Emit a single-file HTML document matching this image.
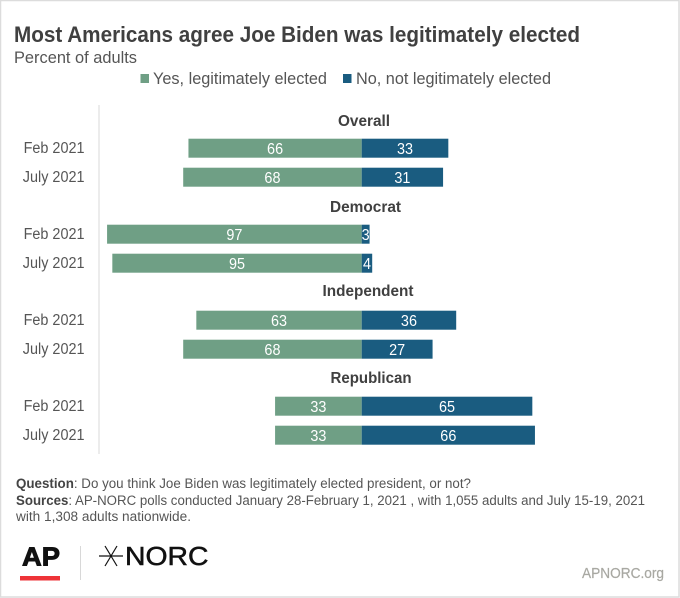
<!DOCTYPE html>
<html lang="en">
<head>
<meta charset="utf-8">
<title>Most Americans agree Joe Biden was legitimately elected</title>
<style>
  html, body { margin: 0; padding: 0; background: #fff; }
  svg { display: block; font-family: "Liberation Sans", sans-serif; }
</style>
</head>
<body>
<svg id="chart" xmlns="http://www.w3.org/2000/svg" width="680" height="598" viewBox="0 0 680 598">
  <rect x="0.5" y="0.5" width="678.5" height="596.5" fill="#fff" stroke="#dcdcdc" stroke-width="1.5"/>

  <text x="14" y="42" font-size="22" font-weight="700" fill="#404040" textLength="566" lengthAdjust="spacingAndGlyphs">Most Americans agree Joe Biden was legitimately elected</text>
  <text x="14" y="63" font-size="16.5" fill="#555" textLength="123" lengthAdjust="spacingAndGlyphs">Percent of adults</text>

  <g>
    <rect x="140.5" y="74" width="8.5" height="9" fill="#6f9f85"/>
    <text x="153" y="84" font-size="16.5" fill="#555" textLength="174" lengthAdjust="spacingAndGlyphs">Yes, legitimately elected</text>
    <rect x="343" y="74" width="8.5" height="9" fill="#1a5c80"/>
    <text x="356" y="84" font-size="16.5" fill="#555" textLength="195" lengthAdjust="spacingAndGlyphs">No, not legitimately elected</text>
  </g>

  <line x1="99" y1="105" x2="99" y2="454" stroke="#e6e6e6" stroke-width="1.5"/>

  <g font-size="15.5" font-weight="700" fill="#404040">
    <text x="338" y="126" textLength="52" lengthAdjust="spacingAndGlyphs">Overall</text>
    <text x="330" y="212" textLength="71" lengthAdjust="spacingAndGlyphs">Democrat</text>
    <text x="322.5" y="296" textLength="91" lengthAdjust="spacingAndGlyphs">Independent</text>
    <text x="330.5" y="383" textLength="81" lengthAdjust="spacingAndGlyphs">Republican</text>
  </g>

  <g id="marks"></g>

  <g font-size="13.5" fill="#555">
    <text x="16" y="488" textLength="455" lengthAdjust="spacingAndGlyphs"><tspan font-weight="700" fill="#444">Question</tspan>: Do you think Joe Biden was legitimately elected president, or not?</text>
    <text x="16" y="505" textLength="629" lengthAdjust="spacingAndGlyphs"><tspan font-weight="700" fill="#444">Sources</tspan>: AP-NORC polls conducted January 28-February 1, 2021 , with 1,055 adults  and July 15-19, 2021</text>
    <text x="16" y="521" textLength="175" lengthAdjust="spacingAndGlyphs">with 1,308 adults nationwide.</text>
  </g>

  <g>
    <text x="22" y="565.5" font-size="25.5" font-weight="700" fill="#111" stroke="#111" stroke-width="0.9" textLength="38" lengthAdjust="spacingAndGlyphs">AP</text>
    <rect x="20" y="576" width="40" height="4.5" fill="#ee3338"/>
  </g>
  <line x1="80.5" y1="546" x2="80.5" y2="580" stroke="#d8d8d8" stroke-width="1"/>
  <g>
    <g stroke="#111" stroke-width="1.2">
      <line x1="99" y1="556" x2="123" y2="556"/>
      <line x1="105" y1="546" x2="117" y2="566"/>
      <line x1="117" y1="546" x2="105" y2="566"/>
    </g>
    <text x="125" y="565" font-size="25.5" fill="#111" stroke="#111" stroke-width="0.5" textLength="83.5" lengthAdjust="spacingAndGlyphs">NORC</text>
  </g>
  <text x="582" y="578" font-size="14.5" fill="#a8a8a2" stroke="#a8a8a2" stroke-width="0.2" textLength="82" lengthAdjust="spacingAndGlyphs">APNORC.org</text>
</svg>

<script>
var groups = ["Overall", "Democrat", "Independent", "Republican"];
var periods = ["Feb 2021", "July 2021"];
var yesValues = [66, 68, 97, 95, 63, 68, 33, 33];
var noValues = [33, 31, 3, 4, 36, 27, 65, 66];

var svgNS = "http://www.w3.org/2000/svg";
var marks = document.getElementById("marks");

function xScale(v) { return 361.7 + 2.625 * v; }
function rowCenter(i) {
  var g = Math.floor(i / periods.length);
  var r = i % periods.length;
  return 148.2 + 86 * g + 29 * r;
}
function make(tag, attrs, text) {
  var el = document.createElementNS(svgNS, tag);
  for (var k in attrs) el.setAttribute(k, attrs[k]);
  if (text !== undefined) el.textContent = text;
  marks.appendChild(el);
  return el;
}
function condense(el, ratio) {
  el.setAttribute("textLength", el.getComputedTextLength() * ratio);
  el.setAttribute("lengthAdjust", "spacingAndGlyphs");
}

yesValues.forEach(function (yes, i) {
  var no = noValues[i];
  var cy = rowCenter(i);
  var key = groups[Math.floor(i / periods.length)].toLowerCase() + "-" + periods[i % periods.length].split(" ")[0].toLowerCase();
  var barH = 19;

  var rowLabel = make("text", { x: 84.5, y: cy + 5, "text-anchor": "end", "font-size": 15.5, fill: "#555" }, periods[i % periods.length]);
  
  
  condense(rowLabel, 0.93);

  var yesBar = make("rect", { x: xScale(-yes), y: cy - barH / 2, width: xScale(0) - xScale(-yes), height: barH, fill: "#6f9f85" });
  
  

  var noBar = make("rect", { x: xScale(0), y: cy - barH / 2, width: xScale(no) - xScale(0), height: barH, fill: "#1a5c80" });
  
  

  var yesLabel = make("text", { x: (xScale(-yes) + xScale(0)) / 2, y: cy + 5.7, "text-anchor": "middle", "font-size": 15.5, fill: "#fff" }, String(yes));
  
  
  condense(yesLabel, 0.93);

  var noLabel = make("text", { x: (xScale(0) + xScale(no)) / 2, y: cy + 5.7, "text-anchor": "middle", "font-size": 15.5, fill: "#fff" }, String(no));
  
  
  condense(noLabel, 0.93);
});
</script>
</body>
</html>
